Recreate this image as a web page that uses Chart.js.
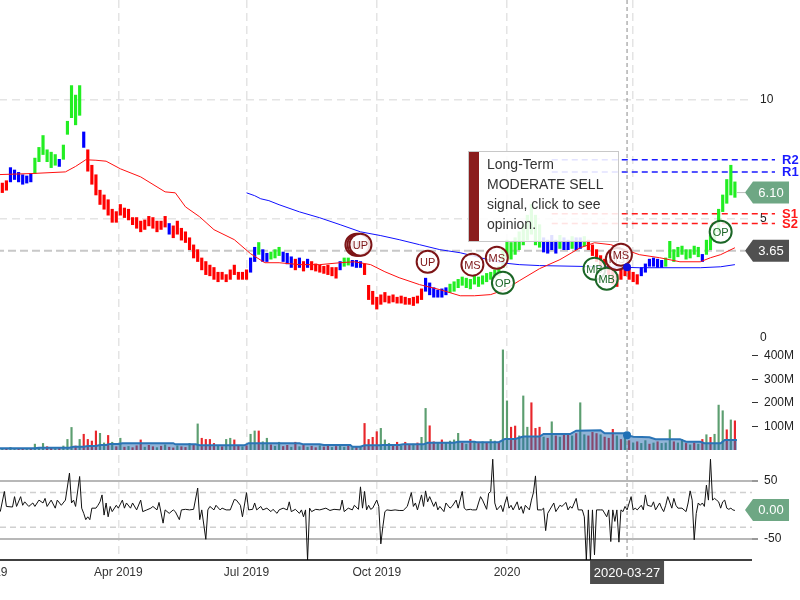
<!DOCTYPE html>
<html>
<head>
<meta charset="utf-8">
<script src="https://cdn.jsdelivr.net/npm/chart.js@4.4.1/dist/chart.umd.min.js"></script>
<style>
  html, body { margin: 0; padding: 0; overflow: hidden; background: #fff; }
  #wrap { position: absolute; left: -40px; top: 0; width: 840px; height: 600px; }
</style>
</head>
<body>
<div id="wrap"><canvas id="chart" width="840" height="600"></canvas></div>
<script>
// trading-day index 0 = first session of 2019
const xTickIdx = [0, 61, 124, 188, 252, 314];
const xTickText = ["2019", "Apr 2019", "Jul 2019", "Oct 2019", "2020", "Apr 2020"];
const priceTicks = [0, 5, 10];
const volTicks = [100, 200, 300, 400];
const oscTicks = [-50, 50];
const oscBands = [-30, 30];

// one bar every 2 sessions, starting at session 2
const FIRST_IDX = 2, STEP = 2;
const priceLow = [
  6.0, 6.1, 6.2, 6.55, 6.65, 6.55, 6.45, 6.5, 6.55, 6.9,
  7.4, 7.7, 7.4, 7.15, 7.25, 7.2, 7.5, 8.55, 9.25, 8.95,
  9.35, 8.0, 7.0, 6.45, 6.0, 5.6, 5.4, 5.15, 4.85, 4.85,
  5.15, 5.05, 4.95, 4.75, 4.6, 4.45, 4.55, 4.7, 4.6, 4.45,
  4.55, 4.65, 4.35, 4.2, 4.35, 4.1, 4.0, 3.7, 3.35, 3.2,
  2.85, 2.65, 2.6, 2.45, 2.35, 2.45, 2.35, 2.45, 2.65, 2.45,
  2.45, 2.45, 2.75, 3.2, 3.5, 3.2, 3.2, 3.3, 3.35, 3.45,
  3.2, 3.1, 2.95, 2.85, 2.95, 2.8, 2.95, 2.85, 2.8, 2.75,
  2.7, 2.65, 2.6, 2.5, 2.85, 3.0, 3.05, 3.0, 2.95, 2.95,
  2.65, 1.6, 1.4, 1.2, 1.4, 1.5, 1.45, 1.5, 1.45, 1.45,
  1.4, 1.4, 1.35, 1.45, 1.6, 1.95, 1.8, 1.7, 1.7, 1.7,
  1.8, 1.9, 1.95, 2.1, 2.2, 2.1, 2.05, 2.25, 2.15, 2.25,
  2.35, 2.45, 2.5, 2.6, 2.95, 3.35, 3.3, 3.5, 3.7, 3.9,
  4.1, 4.35, 3.9, 3.8, 3.6, 3.55, 3.7, 3.55, 3.75, 3.7,
  3.7, 3.75, 3.7, 3.75, 3.85, 3.7, 3.45, 3.2, 3.0, 2.85,
  2.65, 2.25, 2.15, 2.45, 2.6, 2.45, 2.35, 2.25, 2.6, 2.75,
  3.0, 3.0, 2.95, 2.95, 3.0, 3.35, 3.2, 3.4, 3.5, 3.3,
  3.35, 3.5, 3.4, 3.2, 3.5, 3.7, 4.05, 4.45, 5.3, 5.65,
  6.0, 5.9
];
const priceHigh = [
  6.4, 6.5, 6.6, 7.15, 7.05, 6.95, 6.85, 6.8, 6.9, 7.55,
  8.0, 8.5, 7.9, 7.8, 7.7, 7.5, 8.1, 9.1, 10.6, 10.2,
  10.6, 8.65, 7.9, 7.25, 6.85, 6.2, 6.0, 5.8, 5.4, 5.3,
  5.6, 5.45, 5.4, 5.05, 5.05, 4.9, 4.95, 5.1, 5.05, 4.9,
  4.9, 5.1, 4.8, 4.7, 4.9, 4.6, 4.45, 4.2, 3.9, 3.7,
  3.35, 3.2, 3.05, 2.95, 2.75, 2.75, 2.65, 2.85, 3.05, 2.75,
  2.75, 2.85, 3.35, 3.8, 4.0, 3.7, 3.55, 3.6, 3.7, 3.8,
  3.6, 3.55, 3.4, 3.3, 3.35, 3.2, 3.3, 3.2, 3.1, 3.05,
  3.0, 3.05, 2.95, 2.95, 3.2, 3.35, 3.35, 3.25, 3.25, 3.2,
  3.1, 2.2, 1.95, 1.7, 1.8, 1.9, 1.75, 1.8, 1.7, 1.75,
  1.7, 1.65, 1.7, 1.75, 2.05, 2.5, 2.3, 2.1, 2.0, 2.05,
  2.1, 2.25, 2.35, 2.45, 2.55, 2.5, 2.45, 2.6, 2.55, 2.6,
  2.7, 2.75, 2.85, 3.0, 3.7, 4.1, 4.0, 4.2, 4.45, 4.75,
  5.15, 5.6, 5.15, 4.75, 4.2, 4.1, 4.3, 4.1, 4.3, 4.2,
  4.1, 4.25, 4.2, 4.2, 4.25, 4.1, 3.9, 3.7, 3.45, 3.3,
  3.1, 2.85, 2.65, 2.95, 3.0, 2.95, 2.75, 2.65, 2.95, 3.1,
  3.3, 3.35, 3.3, 3.25, 3.35, 4.05, 3.7, 3.8, 3.85, 3.7,
  3.7, 3.85, 3.8, 3.5, 4.1, 4.3, 4.6, 5.4, 6.0, 6.65,
  7.25, 6.55
];
// g = up trend, b = neutral, r = down trend
const priceTrend = (
  "rrrbbbbbbg" + "gggggbgggg" + "gbrrrrrrrr" + "rrrrrrrrrr" +
  "rrbrrrrrrr" + "rrrrrrrrrr" + "rrbbgbbggg" + "bbbrbrbrrr" +
  "rrrrbggbbb" + "rrrrrrrrrr" + "rrrrrbbbbb" + "bggggggggg" +
  "gggggggggg" + "ggggbbbbgb" + "bgbbgrrrrr" + "rrrrrrrrbb" +
  "bbbbgggggg" + "gggbgggggg" + "gg"
).split("");

const volume = [
  5, 4, 6, 11, 5, 4, 6, 5, 4, 25,
  8, 28, 14, 8, 6, 7, 17, 45, 96, 17,
  45, 67, 45, 38, 81, 71, 30, 62, 33, 14,
  50, 12, 15, 10, 18, 43, 12, 20, 14, 10,
  16, 22, 12, 9, 18, 14, 11, 28, 20, 111,
  50, 45, 45, 28, 18, 14, 45, 50, 43, 20,
  14, 18, 67, 81, 81, 35, 50, 22, 16, 33,
  15, 20, 12, 33, 14, 22, 12, 16, 10, 18,
  13, 20, 11, 15, 24, 12, 18, 10, 14, 16,
  113, 45, 54, 78, 92, 43, 28, 20, 33, 18,
  33, 22, 25, 30, 54, 177, 103, 35, 28, 43,
  30, 38, 43, 71, 30, 25, 45, 32, 28, 35,
  30, 45, 38, 30, 426, 209, 97, 102, 60, 230,
  97, 201, 92, 97, 55, 50, 120, 60, 55, 65,
  65, 60, 70, 201, 65, 60, 75, 70, 65, 55,
  50, 88, 60, 45, 50, 40, 30, 35, 28, 40,
  25, 30, 35, 28, 30, 86, 35, 30, 45, 28,
  22, 30, 25, 45, 65, 54, 67, 191, 167, 86,
  128, 124
];
const volTrend = (
  "rgrggrrgrg" + "ggrrgrgggr" + "grrrrggrgr" + "grgrrrgrrg" +
  "rgrrgrrgrg" + "rrrrgrggrr" + "grggrggrgg" + "rrgrgrgrrg" +
  "rrgrggrgrg" + "rrrrgggrrg" + "rrgrggrrgr" + "ggggrgrgrg" +
  "rggrggrrgg" + "grrrgrgrgr" + "rgrggrrrgr" + "rrgrgrgrgg" +
  "rgrgggrggr" + "grgrgrgggr" + "gr"
).split("");

// [session, value in millions]
const volMa = [
  [-17, 7], [20, 7], [22, 10], [37, 10], [39, 14], [44, 14], [46, 17], [50, 17],
  [52, 21], [55, 21], [57, 26], [61, 26], [63, 29], [88, 29], [89, 24], [99, 24],
  [101, 20], [123, 20], [125, 29], [150, 29], [152, 24], [160, 24], [162, 21],
  [175, 21], [176, 14], [180, 14], [182, 20], [190, 20], [191, 21], [199, 21],
  [201, 24], [211, 24], [213, 31], [226, 31], [228, 35], [236, 35], [237, 33],
  [248, 33], [251, 47], [256, 47], [258, 52], [260, 57], [268, 57], [270, 68],
  [283, 68], [286, 82], [298, 84], [300, 71], [310, 71], [311, 63], [314, 56],
  [322, 54], [325, 46], [337, 46], [340, 35], [347, 35], [349, 29], [357, 29],
  [359, 43], [365, 43]
];

// [session, price]
const maShort = [
  [0, 6.85], [18, 6.9], [35, 6.97], [40, 7.2], [45, 7.48], [50, 7.46], [55, 7.42],
  [62, 7.1], [72, 6.76], [84, 6.13], [89, 6.09], [94, 5.5], [101, 5.08], [108, 4.54],
  [118, 4.12], [126, 3.53], [133, 3.15], [140, 3.15], [150, 3.07], [160, 3.07],
  [170, 3.15], [177, 3.19], [185, 3.07], [192, 2.77], [199, 2.52], [209, 2.23],
  [219, 2.02], [229, 1.76], [236, 1.76], [244, 1.81], [251, 2.02], [258, 2.39],
  [268, 2.9], [278, 3.28], [288, 3.78], [295, 3.99], [303, 3.91], [310, 3.7],
  [317, 3.49], [327, 3.36], [337, 3.19], [347, 3.19], [352, 3.36], [357, 3.49],
  [364, 3.78]
];
const maLong = [
  [124, 6.09], [128, 5.97], [131, 5.84], [135, 5.76], [140, 5.59], [150, 5.29],
  [160, 5.04], [170, 4.75], [180, 4.45], [190, 4.29], [199, 4.12], [209, 3.91],
  [219, 3.7], [229, 3.57], [239, 3.36], [249, 3.15], [258, 3.07], [268, 3.03],
  [298, 2.98], [317, 2.94], [347, 2.94], [357, 2.98], [364, 3.07]
];

// [session, oscillator]
const osc = [
  [3, -3], [5, 32], [6, 6], [9, 5], [10, 23], [11, 6], [13, 23], [14, 8], [15, 14], [17, 6],
  [19, 12], [20, 6], [22, 17], [24, 12], [25, 20], [26, 6], [28, 17], [30, 3], [31, 17], [33, 8],
  [35, 17], [37, 64], [38, 12], [39, 17], [40, 6], [42, 58], [43, 3], [44, -6], [45, -17], [46, -12],
  [47, -17], [48, 3], [50, 3], [51, 8], [52, 14], [53, 26], [54, -9], [55, 12], [56, -12], [57, 6],
  [58, -3], [60, 8], [61, 3], [63, 17], [64, 3], [65, 12], [67, 3], [68, 12], [70, 0], [72, 17],
  [73, -3], [75, 0], [77, 3], [78, 6], [80, 0], [81, 13], [83, -23], [84, 0], [86, -6], [88, 0],
  [89, -3], [91, -17], [92, 0], [94, 1], [96, 0], [98, 1], [100, 38], [101, -17], [102, 0], [104, -51],
  [105, 0], [106, 6], [108, 0], [109, 8], [111, 0], [112, 3], [114, 0], [116, 0], [118, 18], [119, 17],
  [121, 8], [122, -12], [124, 30], [125, 0], [127, 1], [128, 12], [129, 0], [131, 6], [132, 0], [134, 3],
  [136, -3], [137, 1], [139, -6], [140, 0], [142, 3], [144, 0], [145, 14], [146, -3], [148, 1], [150, -6],
  [151, 0], [152, -12], [153, 0], [154, -87], [155, 3], [156, -3], [158, 1], [160, 0], [163, 3], [165, -1],
  [167, 1], [170, 0], [171, 17], [172, -3], [174, 3], [176, 0], [177, 8], [179, 1], [180, 40], [181, 3],
  [182, 32], [183, 0], [184, 8], [185, 1], [186, 3], [188, 17], [189, 6], [190, -59], [191, -29], [192, -3],
  [193, 0], [195, -1], [197, 0], [199, -1], [201, -1], [203, 6], [205, 30], [206, 6], [207, 12], [208, 0],
  [210, 26], [211, 6], [212, 33], [213, 14], [214, 23], [216, 6], [217, 14], [218, 0], [219, 6], [221, -3],
  [222, 12], [224, 3], [225, 6], [227, 17], [228, 3], [230, 32], [231, 3], [232, 0], [234, 1], [235, 0],
  [237, 0], [238, 12], [239, 23], [240, 17], [242, 1], [243, 29], [244, 32], [245, 88], [246, 12], [247, 0],
  [249, 8], [250, -3], [251, 12], [252, 23], [253, 3], [254, 8], [255, 0], [257, 14], [258, 0], [259, 6],
  [260, -6], [261, 8], [263, 0], [264, 17], [265, 30], [266, 59], [267, 0], [269, 0], [270, 3], [271, -36],
  [272, -6], [273, 0], [275, 12], [276, -3], [278, 8], [279, 6], [281, 13], [282, 0], [283, 6], [284, 3],
  [286, 20], [287, 0], [289, 0], [290, -12], [291, -87], [292, 0], [293, -87], [294, 0], [295, -78], [296, 0],
  [298, 0], [299, 0], [301, -12], [302, 0], [303, -55], [304, 0], [305, -20], [306, 0], [307, -56], [308, 0],
  [309, -3], [310, 6], [311, 0], [313, 23], [314, 0], [315, 3], [316, 0], [318, 8], [319, 0], [320, 26],
  [321, 8], [323, 6], [324, 14], [325, 0], [327, 12], [328, 3], [329, -3], [330, 8], [331, 23], [333, 3],
  [334, 20], [335, 8], [336, 3], [338, 3], [339, 0], [340, -3], [341, 12], [342, 33], [343, 17], [344, -52],
  [345, -6], [346, 12], [347, 8], [348, 12], [349, 6], [350, 43], [351, 17], [352, 88], [353, 17], [354, 20],
  [355, 17], [356, 14], [357, 3], [358, 14], [359, 17], [360, 3], [361, 1], [362, 3], [363, 0], [364, -1]
];

const signalIdx = [178, 179, 180, 213, 235, 247, 250, 295, 301, 306, 308, 357];
const signalPrice = [3.91, 3.91, 3.91, 3.19, 3.07, 3.36, 2.31, 2.9, 2.48, 3.31, 3.49, 4.45];
const signalText = ["UP", "UP", "UP", "UP", "MS", "MS", "OP", "MB", "MB", "MS", "MS", "OP"];

const levelName = ["R2", "R1", "S1", "S2"];
const levelValue = [7.48, 6.97, 5.21, 4.8];
const LEVEL_FROM = 274;

const lastClose = 6.10;
const refPrice = 3.65;
const oscLast = 0;
const crossIdx = 311, crossDate = "2020-03-27", crossPrice = 2.96, crossVol = 63;

const SHIFT = 40; // canvas sits 40px left of the page
const FONT = "'Liberation Sans', Arial, sans-serif";
Chart.defaults.font.family = FONT;
Chart.defaults.font.size = 12;
Chart.defaults.color = "#222";

const sessions = priceLow.map((_, k) => FIRST_IDX + STEP * k);
const trendColor = { g: "#22ee22", b: "#0000ff", r: "#ff0000" };
const volColor = { g: "#5c9e70", r: "#e8262b" };

function tag(ctx, tipX, y, color, text) {
  const h = 22, w = 36;
  ctx.beginPath();
  ctx.moveTo(tipX, y);
  ctx.lineTo(tipX + 8, y - h / 2);
  ctx.lineTo(tipX + 8 + w, y - h / 2);
  ctx.lineTo(tipX + 8 + w, y + h / 2);
  ctx.lineTo(tipX + 8, y + h / 2);
  ctx.closePath();
  ctx.fillStyle = color;
  ctx.fill();
  ctx.fillStyle = "#fff";
  ctx.font = "13px " + FONT;
  ctx.textAlign = "center";
  ctx.textBaseline = "middle";
  ctx.fillText(text, tipX + 8 + w / 2, y + 1);
}

const overlay = {
  id: "overlay",
  beforeDatasetsDraw(chart) {
    const { ctx, chartArea: a, scales: { x, yPrice, yOsc } } = chart;
    ctx.save();
    ctx.lineWidth = 1.5;
    ctx.strokeStyle = "#d0d0d0";
    ctx.setLineDash([6, 4]);
    oscBands.forEach(v => {
      const y = yOsc.getPixelForValue(v);
      ctx.beginPath(); ctx.moveTo(a.left, y); ctx.lineTo(a.right, y); ctx.stroke();
    });
    // reference price line
    ctx.lineWidth = 2;
    ctx.strokeStyle = "#c8c8c8";
    ctx.setLineDash([8, 4]);
    let y = yPrice.getPixelForValue(refPrice);
    ctx.beginPath(); ctx.moveTo(a.left, y); ctx.lineTo(a.right - 7, y); ctx.stroke();
    // support / resistance
    ctx.lineWidth = 1.5;
    ctx.setLineDash([6, 4]);
    levelName.forEach((n, i) => {
      const col = n[0] === "R" ? "#1a1aff" : "#ff1a1a";
      const ly = yPrice.getPixelForValue(levelValue[i]);
      ctx.strokeStyle = col;
      ctx.beginPath(); ctx.moveTo(x.getPixelForValue(LEVEL_FROM), ly); ctx.lineTo(a.right + 23, ly); ctx.stroke();
    });
    ctx.restore();
  },
  afterDatasetsDraw(chart) {
    const { ctx, chartArea: a, scales: { x, yPrice, yVol, yOsc } } = chart;
    ctx.save();
    // x axis base line
    ctx.strokeStyle = "#000";
    ctx.lineWidth = 1.5;
    ctx.beginPath(); ctx.moveTo(a.left, a.bottom); ctx.lineTo(a.right, a.bottom); ctx.stroke();

    // level labels
    ctx.font = "bold 13px " + FONT;
    ctx.textAlign = "left";
    ctx.textBaseline = "middle";
    levelName.forEach((n, i) => {
      ctx.fillStyle = n[0] === "R" ? "#1a1aff" : "#ff1a1a";
      ctx.fillText(n, a.right + 30, yPrice.getPixelForValue(levelValue[i]) + 1);
    });

    // crosshair
    const cx = x.getPixelForValue(crossIdx);
    ctx.strokeStyle = "#8a8a8a";
    ctx.lineWidth = 1;
    ctx.setLineDash([4, 3]);
    ctx.beginPath(); ctx.moveTo(cx, a.top); ctx.lineTo(cx, a.bottom); ctx.stroke();
    ctx.setLineDash([]);

    // signal circles
    signalIdx.forEach((si, n) => {
      const sx = x.getPixelForValue(si), sy = yPrice.getPixelForValue(signalPrice[n]);
      const t = signalText[n];
      const col = (t === "UP" || t === "MS") ? "#7d1517" : "#1b6626";
      ctx.beginPath();
      ctx.arc(sx, sy, 11, 0, Math.PI * 2);
      ctx.fillStyle = "rgba(255,255,255,0.85)";
      ctx.fill();
      ctx.lineWidth = 2;
      ctx.strokeStyle = col;
      ctx.stroke();
      ctx.fillStyle = col;
      ctx.font = "11px " + FONT;
      ctx.textAlign = "center";
      ctx.textBaseline = "middle";
      ctx.fillText(t, sx, sy + 1);
    });

    // crosshair dots
    ctx.fillStyle = "#1010e0";
    ctx.beginPath(); ctx.arc(cx, yPrice.getPixelForValue(crossPrice), 4, 0, Math.PI * 2); ctx.fill();
    ctx.fillStyle = "#1f6fb5";
    ctx.beginPath(); ctx.arc(cx, yVol.getPixelForValue(crossVol), 4, 0, Math.PI * 2); ctx.fill();

    // opinion box
    const bx = 468 + SHIFT, by = 151, bw = 150, bh = 90;
    ctx.fillStyle = "rgba(255,255,255,0.88)";
    ctx.fillRect(bx, by, bw, bh);
    ctx.strokeStyle = "#c8c8c8";
    ctx.lineWidth = 1;
    ctx.strokeRect(bx + 0.5, by + 0.5, bw, bh);
    ctx.fillStyle = "#8b1c1c";
    ctx.fillRect(bx + 1, by + 1, 10, bh - 1);
    ctx.fillStyle = "#333";
    ctx.font = "14px " + FONT;
    ctx.textAlign = "left";
    ctx.textBaseline = "middle";
    ["Long-Term", "MODERATE SELL", "signal, click to see", "opinion."].forEach((s, i) => {
      ctx.fillText(s, bx + 19, by + 14 + i * 20);
    });

    // price connector and tags
    const tipX = a.right - 7;
    const yl = yPrice.getPixelForValue(lastClose);
    ctx.strokeStyle = "#bbb";
    ctx.lineWidth = 1;
    ctx.beginPath(); ctx.moveTo(x.getPixelForValue(sessions[sessions.length - 1]) + 2, yl); ctx.lineTo(tipX, yl); ctx.stroke();
    tag(ctx, tipX, yl, "#6ea784", lastClose.toFixed(2));
    tag(ctx, tipX, yPrice.getPixelForValue(refPrice), "#505050", refPrice.toFixed(2));
    tag(ctx, tipX, yOsc.getPixelForValue(oscLast), "#6ea784", oscLast.toFixed(2));

    // crosshair date label
    ctx.fillStyle = "#4d4d4d";
    ctx.fillRect(cx - 37, a.bottom + 1, 74, 23);
    ctx.fillStyle = "#fff";
    ctx.font = "13px " + FONT;
    ctx.textAlign = "center";
    ctx.textBaseline = "middle";
    ctx.fillText(crossDate, cx, a.bottom + 13);
    ctx.restore();
  }
};

const yCommon = {
  position: "right",
  stack: "panels",
  border: { display: false },
};
function fixY(s) { s.width = 48; s.paddingTop = 0; s.paddingBottom = 0; }

new Chart(document.getElementById("chart"), {
  data: {
    datasets: [
      {
        type: "line", label: "Volume MA", yAxisID: "yVol", order: 1,
        data: volMa.map(([x, y]) => ({ x, y })),
        borderColor: "#2a74b6", borderWidth: 2, pointRadius: 0,
        fill: "origin", backgroundColor: "rgba(35,105,175,0.5)"
      },
      {
        type: "bar", label: "Volume", yAxisID: "yVol", order: 2, grouped: false,
        data: sessions.map((x, k) => ({ x, y: volume[k] })),
        backgroundColor: volTrend.map(c => volColor[c]), barThickness: 1.5
      },
      {
        type: "line", label: "MA short", yAxisID: "yPrice", order: 3,
        data: maShort.map(([x, y]) => ({ x, y })),
        borderColor: "#ff1010", borderWidth: 1, pointRadius: 0
      },
      {
        type: "line", label: "MA long", yAxisID: "yPrice", order: 4,
        data: maLong.map(([x, y]) => ({ x, y })),
        borderColor: "#1010ff", borderWidth: 1, pointRadius: 0
      },
      {
        type: "bar", label: "Price", yAxisID: "yPrice", order: 5, grouped: false,
        data: sessions.map((x, k) => ({ x, y: [priceLow[k], priceHigh[k]] })),
        backgroundColor: priceTrend.map(c => trendColor[c]), barThickness: 2.5
      },
      {
        type: "line", label: "Oscillator", yAxisID: "yOsc", order: 6,
        data: osc.map(([x, y]) => ({ x, y })),
        borderColor: "#111", borderWidth: 1, pointRadius: 0
      }
    ]
  },
  options: {
    responsive: false,
    animation: false,
    devicePixelRatio: 1,
    layout: { padding: 0, autoPadding: false },
    plugins: { legend: { display: false }, tooltip: { enabled: false } },
    scales: {
      x: {
        type: "linear", min: -16.8, max: 372.4, offset: false,
        afterBuildTicks: s => { s.ticks = xTickIdx.map(v => ({ value: v })); },
        afterFit: s => { s.height = 40; s.paddingLeft = 0; s.paddingRight = 0; },
        ticks: {
          autoSkip: false, maxRotation: 0, padding: 5, color: "#333",
          callback: v => xTickText[xTickIdx.indexOf(v)]
        },
        grid: { color: "#e4e4e4", lineWidth: 1.5, drawTicks: false, offset: false },
        border: { display: false, dash: [8, 5] }
      },
      yPrice: {
        ...yCommon, stackWeight: 340, min: -0.1, max: 14.2,
        afterBuildTicks: s => { s.ticks = priceTicks.map(v => ({ value: v })); },
        afterFit: fixY,
        ticks: { padding: 8 },
        grid: {
          color: c => (c.tick && c.tick.value === 0) ? "rgba(0,0,0,0)" : "#e4e4e4",
          lineWidth: 1.5, drawTicks: false
        },
        border: { display: false, dash: [8, 5] }
      },
      yVol: {
        ...yCommon, stackWeight: 110, min: 0, max: 468,
        afterBuildTicks: s => { s.ticks = volTicks.map(v => ({ value: v })); },
        afterFit: fixY,
        ticks: { padding: 6, callback: v => v + "M" },
        grid: { drawOnChartArea: false, tickLength: 6, tickColor: "#333", tickWidth: 1 }
      },
      yOsc: {
        ...yCommon, stackWeight: 110, min: -87, max: 104,
        afterBuildTicks: s => { s.ticks = oscTicks.map(v => ({ value: v })); },
        afterFit: fixY,
        ticks: { padding: 6 },
        grid: { color: "#b8b8b8", lineWidth: 2, tickLength: 6, tickColor: "#333", tickWidth: 1 }
      }
    }
  },
  plugins: [overlay]
});
</script>
</body>
</html>
